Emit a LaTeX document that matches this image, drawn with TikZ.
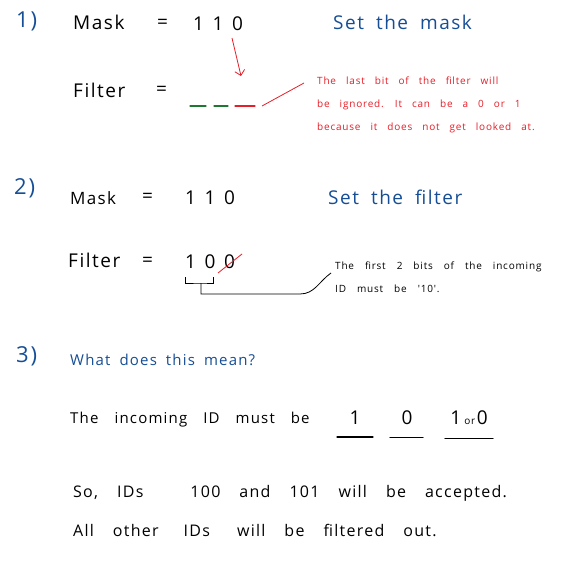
\documentclass[tikz,border=0pt]{standalone}
\usepackage{fontspec}
\newfontfamily\handfont[LetterSpace=8]{Open Sans}
\newfontfamily\bitfont[LetterSpace=45]{Open Sans}
\usetikzlibrary{arrows.meta}
\definecolor{penblue}{RGB}{22,78,150}
\definecolor{penred}{RGB}{230,30,40}
\definecolor{pengreen}{RGB}{30,120,50}
\begin{document}
\begin{tikzpicture}[
    x = 1pt,
    y = -1pt,
    word/.style = {
        anchor = west,
        inner sep = 0pt,
        font = {\handfont\fontsize{19}{22}\selectfont\spaceskip=12pt\relax}
    },
    bits/.style = {
        word,
        font = \bitfont\fontsize{19}{22}\selectfont
    },
    numlabel/.style = {
        word,
        text = penblue,
        font = \handfont\fontsize{22}{24}\selectfont
    },
    title/.style = {
        word,
        text = penblue
    },
    note/.style = {
        anchor = north west,
        inner sep = 0pt,
        align = left,
        font = {\handfont\fontsize{10}{23}\selectfont\spaceskip=9pt\relax}
    },
    sentence/.style = {
        word,
        font = {\handfont\fontsize{16}{20}\selectfont\spaceskip=19pt\relax}
    },
    pen/.style = {
        line width = 1.2pt,
        line cap = round
    },
    arrow/.style = {
        ->,
        >={Straight Barb[length=5pt]},
        penred,
        line width = 0.8pt
    }
]
    \useasboundingbox [fill = white] (0,0) rectangle (570,588);

    % Step 1: set the mask
    \node [numlabel] (n1) at (16,21) {1)};
    \node [word] (mask1) at (73,22) {Mask};
    \node [word] (eq1) at (157,24) {=};
    \node [bits] (val1) at (193,24) {110};
    \node [title] (t1) at (333,22) {Set the mask};
    \node [word] (filter1) at (73,90) {Filter};
    \node [word] (eq2) at (156,91) {=};
    \node [note, text = penred, font = {\handfont\fontsize{10}{23}\selectfont\spaceskip=10pt\relax}]
        (note1) at (317,77)
        {The last bit of the filter will\\
         be ignored. It can be a 0 or 1\\
         because it does not get looked at.};

    \coordinate (d1) at (190,106);
    \coordinate (d2) at (214,106);
    \coordinate (d3) at (235,106);
    \draw [pen, pengreen] (d1) -- ++(16,0);
    \draw [pen, pengreen] (d2) -- ++(14,0);
    \draw [pen, penred] (d3) -- ++(20,0);
    \coordinate (a1) at (232,38);
    \coordinate (a2) at (241,76);
    \draw [arrow] (a1) -- (a2);
    \coordinate (p1) at (262,106);
    \coordinate (p2) at (304,83);
    \draw [penred, line width = 0.8pt] (p1) -- (p2);

    % Step 2: set the filter
    \node [numlabel] (n2) at (14,188) {2)};
    \node [word, font = \handfont\fontsize{17}{20}\selectfont] (mask2) at (70,198) {Mask};
    \node [word] (eq3) at (142,198) {=};
    \node [bits] (val2) at (185,198) {110};
    \node [title] (t2) at (328,197) {Set the filter};
    \node [word] (filter2) at (68,260) {Filter};
    \node [word] (eq4) at (142,262) {=};
    \node [bits] (val3) at (185,262) {100};
    \node [note, font = {\handfont\fontsize{10}{23}\selectfont\spaceskip=11pt\relax}]
        (note2) at (335,262)
        {The first 2 bits of the incoming\\
         ID must be '10'.};

    \coordinate (s1) at (218,273);
    \coordinate (s2) at (242,254);
    \draw [penred, line width = 0.8pt] (s1) -- (s2);
    \coordinate (b1) at (185,277);
    \coordinate (b2) at (213,277);
    \coordinate (b3) at (201,283);
    \coordinate (b4) at (300,294);
    \coordinate (b5) at (331,273);
    \draw [line width = 0.8pt] (b1) |- (b3) -| (b2);
    \draw [line width = 0.8pt] (b3) |- (b4) to [out = 0, in = 215] (b5);

    % Step 3: what it means
    \node [numlabel] (n3) at (16,356) {3)};
    \node [title, font = {\handfont\fontsize{15}{18}\selectfont\spaceskip=9pt\relax}]
        (t3) at (70,360) {What does this mean?};
    \node [sentence, font = {\handfont\fontsize{15}{20}\selectfont\spaceskip=16pt\relax}]
        (line1) at (70,420) {The incoming ID must be};
    \node [word, anchor = center] (bit1) at (355,418) {1};
    \node [word, anchor = center] (bit2) at (407,418) {0};
    \node [word, anchor = center] (bit3) at (469,418)
        {1\,\fontsize{10}{12}\selectfont or\,\fontsize{19}{22}\selectfont 0};
    \draw [pen] (bit1.south) ++(-18,12) coordinate (u1) -- ++(36,0);
    \draw [pen] (bit2.south) ++(-17,12) coordinate (u2) -- ++(33,0);
    \draw [pen] (bit3.south) ++(-24,13) coordinate (u3) -- ++(48,0);
    \node [sentence] (line2) at (73,493)
        {So, IDs\hspace{28pt} 100 and 101 will be accepted.};
    \node [sentence] (line3) at (73,530)
        {All other\hspace{6pt} IDs\hspace{8pt} will be filtered out.};

\end{tikzpicture}
\end{document}
